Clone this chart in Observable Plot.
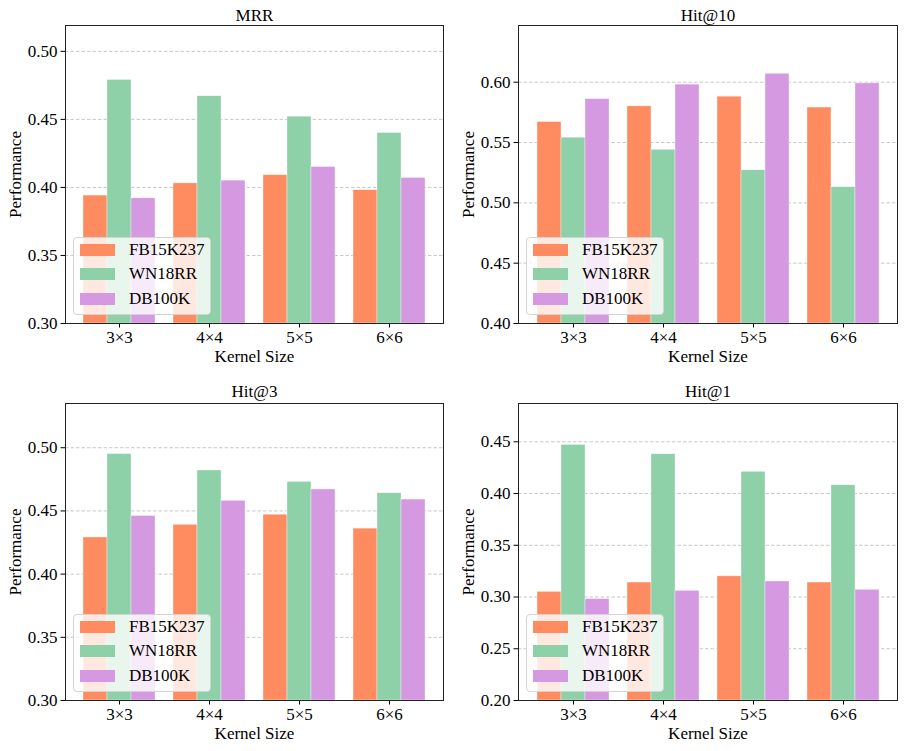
<!DOCTYPE html>
<html>
<head>
<meta charset="utf-8">
<script src="https://cdn.jsdelivr.net/npm/d3@7"></script>
<script src="https://cdn.jsdelivr.net/npm/@observablehq/plot@0.6"></script>
<style>
  body { margin: 0; background: #fff; }
  #fig { position: relative; width: 904px; height: 751px; font-family: "Liberation Serif", "Times New Roman", serif; }
  .panel { position: absolute; }
  .panel svg { position: absolute; left: 0; top: 0; }
  .legend { position: absolute; box-sizing: border-box; width: 138px; height: 78px; background: rgba(255,255,255,0.8);
            border: 1px solid #d4d4d4; border-radius: 4px; padding: 0 0 0 6px; }
  .legend .row { display: flex; align-items: center; height: 24.3px; font-size: 17px; color: #000; }
  .legend .sw { width: 35px; height: 12px; margin-right: 14px; }
</style>
</head>
<body>
<div id="fig"></div>
<script>
// ---- data ----
const kernels = ["3×3", "4×4", "5×5", "6×6"];
const datasets = ["FB15K237", "WN18RR", "DB100K"];
const colors = ["#FF8C61", "#8ED0A8", "#D599E2"];

const mrrFB = [0.394, 0.403, 0.409, 0.398];
const mrrWN = [0.479, 0.467, 0.452, 0.440];
const mrrDB = [0.392, 0.405, 0.415, 0.407];

const hit10FB = [0.567, 0.580, 0.588, 0.579];
const hit10WN = [0.554, 0.544, 0.527, 0.513];
const hit10DB = [0.586, 0.598, 0.607, 0.599];

const hit3FB = [0.429, 0.439, 0.447, 0.436];
const hit3WN = [0.495, 0.482, 0.473, 0.464];
const hit3DB = [0.446, 0.458, 0.467, 0.459];

const hit1FB = [0.305, 0.314, 0.320, 0.314];
const hit1WN = [0.447, 0.438, 0.421, 0.408];
const hit1DB = [0.298, 0.306, 0.315, 0.307];

const mrrTicks = [0.30, 0.35, 0.40, 0.45, 0.50];
const hit10Ticks = [0.40, 0.45, 0.50, 0.55, 0.60];
const hit3Ticks = [0.30, 0.35, 0.40, 0.45, 0.50];
const hit1Ticks = [0.20, 0.25, 0.30, 0.35, 0.40, 0.45];

const mrrDomain = [0.30, 0.519];
const hit10Domain = [0.40, 0.647];
const hit3Domain = [0.30, 0.535];
const hit1Domain = [0.20, 0.487];

const yLabel = "Performance";
const xLabel = "Kernel Size";

// ---- layout ----
const fig = document.getElementById("fig");
const FONT = '"Liberation Serif", "Times New Roman", serif';
const bandOpts = {domain: kernels, paddingInner: 0.2, paddingOuter: 0.19};

function panel(cfg) {
  const rows = [];
  cfg.series.forEach((vals, j) => vals.forEach((v, i) => rows.push({kernel: kernels[i], dataset: datasets[j], value: v})));
  const dims = {width: cfg.width, height: cfg.height,
                marginLeft: cfg.ml, marginRight: cfg.mr, marginTop: cfg.mt, marginBottom: cfg.mb};
  const style = {fontFamily: FONT, fontSize: "17px", background: "transparent", color: "#000", overflow: "visible"};

  // layer 1: dashed grid across the whole frame
  const bg = Plot.plot({
    ...dims, style,
    x: {axis: null},
    y: {domain: cfg.domain, axis: null},
    marks: [
      Plot.gridY(cfg.ticks, {stroke: "#c8c8c8", strokeOpacity: 1, strokeWidth: 1, strokeDasharray: "3.5,2"})
    ]
  });

  // layer 2: grouped bars (faceted by kernel size)
  const bars = Plot.plot({
    ...dims, style,
    fx: {...bandOpts, axis: null},
    x: {domain: datasets, padding: 0, axis: null},
    y: {domain: cfg.domain, axis: null},
    color: {domain: datasets, range: colors},
    marks: [
      Plot.barY(rows, {fx: "kernel", x: "dataset", y1: cfg.domain[0], y2: "value", fill: "dataset",
                       stroke: "white", strokeWidth: 0.6, strokeOpacity: 0.6})
    ]
  });

  // layer 3: axes, frame, title, labels
  const over = Plot.plot({
    ...dims, style,
    x: {type: "band", ...bandOpts},
    y: {domain: cfg.domain},
    marks: [
      Plot.axisX({tickSize: 4.5, tickPadding: 3, fontSize: 17, label: null}),
      Plot.axisY({ticks: cfg.ticks, tickFormat: ".2f", tickSize: 4.5, tickPadding: 3.5, fontSize: 17, label: null}),
      Plot.frame({stroke: "#222", strokeWidth: 1}),
      Plot.text([cfg.title], {text: d => d, frameAnchor: "top", dy: cfg.titleDy, textAnchor: "middle", lineAnchor: "middle", fontSize: 17}),
      Plot.text([xLabel], {text: d => d, frameAnchor: "bottom", dy: 33.3, textAnchor: "middle", lineAnchor: "middle", fontSize: 17}),
      Plot.text([yLabel], {text: d => d, frameAnchor: "left", dx: -49.5, rotate: -90, textAnchor: "middle", lineAnchor: "middle", fontSize: 17})
    ]
  });

  const wrap = document.createElement("div");
  wrap.className = "panel";
  wrap.style.left = cfg.left + "px";
  wrap.style.top = cfg.top + "px";
  wrap.style.width = cfg.width + "px";
  wrap.style.height = cfg.height + "px";
  wrap.appendChild(bg);
  wrap.appendChild(bars);
  wrap.appendChild(over);
  // legend inside the frame, lower left
  const lg = document.createElement("div");
  lg.className = "legend";
  lg.style.left = (cfg.ml + 8) + "px";
  lg.style.top = (cfg.height - cfg.mb - 8 - 78) + "px";
  datasets.forEach((d, j) => {
    const r = document.createElement("div");
    r.className = "row";
    const s = document.createElement("div");
    s.className = "sw";
    s.style.background = colors[j];
    r.appendChild(s);
    r.appendChild(document.createTextNode(d));
    lg.appendChild(r);
  });
  wrap.appendChild(lg);
  fig.appendChild(wrap);
}

panel({title: "MRR", series: [mrrFB, mrrWN, mrrDB], domain: mrrDomain, ticks: mrrTicks, titleDy: -10.4,
       left: 0, top: 0, width: 452, height: 375, ml: 65, mr: 9, mt: 25, mb: 52});
panel({title: "Hit@10", series: [hit10FB, hit10WN, hit10DB], domain: hit10Domain, ticks: hit10Ticks, titleDy: -10.4,
       left: 452, top: 0, width: 452, height: 375, ml: 66, mr: 7, mt: 25, mb: 52});
panel({title: "Hit@3", series: [hit3FB, hit3WN, hit3DB], domain: hit3Domain, ticks: hit3Ticks, titleDy: -11.5,
       left: 0, top: 375, width: 452, height: 376, ml: 65, mr: 9, mt: 28, mb: 51});
panel({title: "Hit@1", series: [hit1FB, hit1WN, hit1DB], domain: hit1Domain, ticks: hit1Ticks, titleDy: -11.5,
       left: 452, top: 375, width: 452, height: 376, ml: 66, mr: 7, mt: 28, mb: 51});
</script>
</body>
</html>
